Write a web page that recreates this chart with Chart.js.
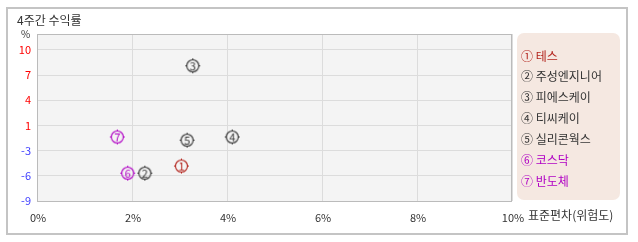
<!DOCTYPE html>
<html>
<head>
<meta charset="utf-8">
<script src="https://cdn.jsdelivr.net/npm/chart.js@4.4.1/dist/chart.umd.min.js"></script>
<style>
  html,body{margin:0;padding:0;background:#fff;}
  #wrap{width:638px;height:242px;position:relative;}
</style>
</head>
<body>
<div id="wrap"><canvas id="grafico" width="638" height="242"></canvas></div>
<script>
// dati
const nomi = ['테스','주성엔지니어','피에스케이','티씨케이','실리콘웍스','코스닥','반도체'];
const numeri = ['①','②','③','④','⑤','⑥','⑦'];
const rischio = [3.04, 2.27, 3.28, 4.11, 3.16, 1.91, 1.69];   // 표준편차 %
const rendimento = [-4.6, -5.5, 8.0, -0.95, -1.35, -5.5, -0.95]; // 수익률 %
const yTickLabels = ['-9','-6','-3','1','4','7','10'];
const xTicks = [0, 2, 4, 6, 8, 10];

const coloriPunti = ['#b3231c','#333333','#333333','#333333','#333333','#b000c4','#b000c4'];
const FONT = '"Noto Sans CJK KR", "Noto Sans", sans-serif';

function creaMarker(n, col){
  const c = document.createElement('canvas');
  c.width = 17; c.height = 17;
  const g = c.getContext('2d');
  g.strokeStyle = col; g.fillStyle = col; g.lineWidth = 1.1;
  g.beginPath(); g.arc(8.5, 8.5, 6, 0, Math.PI*2); g.stroke();
  // tacche
  g.fillRect(8, 1, 1, 2);
  g.fillRect(8, 14, 1, 2);
  g.fillRect(1, 8, 2, 1);
  g.fillRect(14, 8, 2, 1);
  g.font = '11px ' + FONT;
  g.textAlign = 'center'; g.textBaseline = 'middle';
  g.fillText(String(n), 8.5, 9);
  return c;
}

const sfondo = {
  id:'sfondo',
  beforeDraw(chart){
    const {ctx, chartArea:a} = chart;
    ctx.save();
    ctx.fillStyle = '#fff';
    ctx.fillRect(0,0,chart.width,chart.height);
    ctx.strokeStyle = '#c4c4c4'; ctx.lineWidth = 2;
    ctx.strokeRect(7, 8, 620, 226);
    ctx.fillStyle = '#f4f4f4';
    ctx.fillRect(a.left, a.top, a.right-a.left, a.bottom-a.top);
    ctx.fillStyle = '#333';
    ctx.font = '12px ' + FONT;
    ctx.textBaseline = 'middle';
    ctx.fillText('4주간 수익률', 17, 20);
    ctx.font = '10px ' + FONT;
    ctx.textAlign = 'center';
    ctx.fillText('%', 25.5, 34);
    ctx.restore();
  },
  afterDraw(chart){
    const {ctx, chartArea:a} = chart;
    ctx.save();
    ctx.strokeStyle = '#bbbbbb'; ctx.lineWidth = 1;
    ctx.strokeRect(a.left+0.5, a.top+0.5, a.right-a.left-1, a.bottom-a.top);
    // titolo asse x
    ctx.fillStyle = '#333';
    ctx.font = '12px ' + FONT;
    ctx.textBaseline = 'middle';
    ctx.fillText('표준편차(위험도)', a.right+16, a.bottom+14);
    // legenda
    const lx = a.right + 5, ly = a.top - 1, lw = 103, lh = 167;
    ctx.fillStyle = '#f5e8e1';
    ctx.beginPath(); ctx.roundRect(lx, ly, lw, lh, 7); ctx.fill();
    chart.data.datasets.forEach((d,i)=>{
      ctx.fillStyle = coloriPunti[i];
      ctx.font = '12px ' + FONT;
      ctx.textAlign = 'left';
      ctx.fillText(numeri[i] + ' ' + d.label, lx + 4, ly + 23 + i*20.9);
    });
    ctx.restore();
  }
};

const ctx = document.getElementById('grafico').getContext('2d');
new Chart(ctx, {
  type:'scatter',
  data:{
    datasets: nomi.map((n,i)=>({
      label:n,
      data:[{x:rischio[i], y:rendimento[i]}],
      pointStyle:creaMarker(i+1, coloriPunti[i]),
      pointRadius:8, pointHoverRadius:8
    }))
  },
  options:{
    responsive:false,
    animation:false,
    layout:{padding:{left:0, top:34, right:126, bottom:0}},
    plugins:{legend:{display:false}, tooltip:{enabled:false}},
    scales:{
      x:{
        type:'linear', min:0, max:10,
        afterBuildTicks: s => { s.ticks = xTicks.map(v=>({value:v})); },
        afterFit: s => { s.height = 41; },
        grid:{color:'#dcdcdc', drawTicks:false},
        border:{display:false},
        ticks:{padding:10, color:'#333', font:{size:11, family:FONT}, callback:v=>v+'%', labelOffset:1}
      },
      y:{
        type:'linear', min:-9, max:12,
        afterBuildTicks: s => { s.ticks = yTickLabels.map((l,i)=>({value:-9 + i*19/6})); },
        afterFit: s => { s.width = 37; },
        grid:{color:'#dcdcdc', drawTicks:false},
        border:{display:false},
        ticks:{
          padding:6, font:{size:11, family:FONT},
          color: c => c.tick && c.tick.value >= 0 ? '#ff0000' : '#3c3cff',
          callback:(v,i)=>yTickLabels[i]
        }
      }
    }
  },
  plugins:[sfondo]
});
</script>
</body>
</html>
